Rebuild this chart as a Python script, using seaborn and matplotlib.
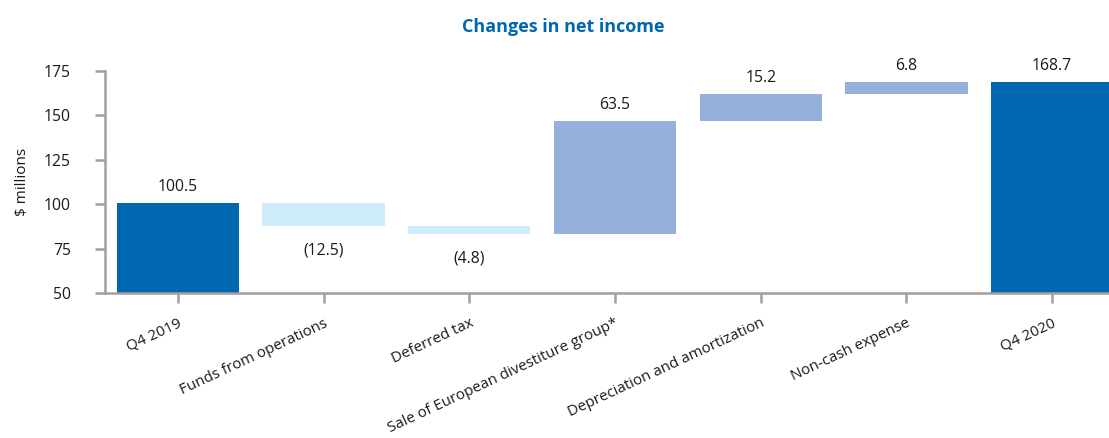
import matplotlib
matplotlib.use("Agg")
import matplotlib.pyplot as plt
import seaborn as sns
import numpy as np

categories = ["Q4 2019", "Funds from operations", "Deferred tax",
              "Sale of European divestiture group*", "Depreciation and amortization",
              "Non-cash expense", "Q4 2020"]
changes = [100.5, -12.5, -4.8, 63.5, 15.2, 6.8, 168.7]
kinds = ["total", "delta", "delta", "delta", "delta", "delta", "total"]
value_labels = ["100.5", "(12.5)", "(4.8)", "63.5", "15.2", "6.8", "168.7"]
y_ticks = [50, 75, 100, 125, 150, 175]

DARK = "#0067b1"
NEG = "#cdebfb"
POS = "#95b0da"
GRAY = "#a0a0a0"
TXT = "#1a1a1a"

# waterfall geometry from the values
bottoms, heights = [], []
running = 0.0
for v, k in zip(changes, kinds):
    if k == "total":
        bottoms.append(0.0)
        heights.append(v)
        running = v
    else:
        bottoms.append(running if v >= 0 else running + v)
        heights.append(abs(v))
        running += v

sns.set_theme(style="white")
plt.rcParams["font.family"] = ["Open Sans", "DejaVu Sans"]

fig = plt.figure(figsize=(11.09, 4.38), dpi=100)
ax = fig.add_axes([105 / 1109, 145 / 438, 1 - 105 / 1109, (293 - 71) / 438])

sns.barplot(x=categories, y=heights, bottom=bottoms, width=0.84,
            color=DARK, errorbar=None, ax=ax, saturation=1)

colors = []
for v, k in zip(changes, kinds):
    colors.append(DARK if k == "total" else (POS if v >= 0 else NEG))
for p, c in zip(ax.patches, colors):
    p.set_facecolor(c)
    p.set_edgecolor("none")

ax.set_ylim(50, 175)
ax.set_xlim(-0.5, 6.39)
ax.set_yticks(y_ticks)
ax.set_yticklabels([str(t) for t in y_ticks], fontsize=11.3, color=TXT)

for spine in ["top", "right"]:
    ax.spines[spine].set_visible(False)
for spine in ["left", "bottom"]:
    ax.spines[spine].set_color(GRAY)
    ax.spines[spine].set_linewidth(1.8)
ax.tick_params(axis="both", which="major", direction="out", length=7.5,
               width=1.8, color=GRAY, left=True, bottom=True)
ax.tick_params(axis="y", pad=17)

ax.set_xticks(range(len(categories)))
ax.set_xticklabels(categories, rotation=25, ha="right", rotation_mode="anchor",
                   fontsize=10.9, color=TXT)
ax.tick_params(axis="x", pad=9)

ax.set_ylabel("$ millions", fontsize=11, color=TXT, labelpad=10)

for i, (v, k, lab) in enumerate(zip(changes, kinds, value_labels)):
    top = bottoms[i] + heights[i]
    if v >= 0:
        ax.annotate(lab, (i, top), xytext=(0, 6), textcoords="offset points",
                    ha="center", va="bottom", fontsize=11.3, color=TXT,
                    annotation_clip=False)
    else:
        ax.annotate(lab, (i, bottoms[i]), xytext=(0, -12), textcoords="offset points",
                    ha="center", va="top", fontsize=11.3, color=TXT,
                    annotation_clip=False)

fig.text(563 / 1109, 1 - 27 / 438, "Changes in net income", ha="center", va="center",
         fontsize=13, fontweight="bold", color=DARK)

fig.savefig("out.png", dpi=100)
